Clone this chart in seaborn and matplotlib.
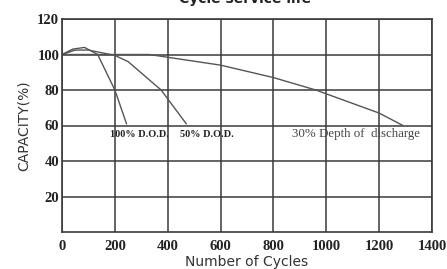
import matplotlib
matplotlib.use("Agg")
import matplotlib.pyplot as plt
import pandas as pd
import seaborn as sns

# capacity curves
dod100_cycles = [0, 40, 85, 135, 200, 244]
dod100_capacity = [100, 103, 104, 100, 80, 61]

dod50_cycles = [0, 50, 100, 200, 250, 375, 470]
dod50_capacity = [100, 102.5, 102.5, 99.5, 96, 80, 61]

dod30_cycles = [0, 330, 600, 800, 960, 1200, 1290]
dod30_capacity = [100, 100, 94, 87, 80, 67, 60]

x_ticks = [0, 200, 400, 600, 800, 1000, 1200, 1400]
y_ticks = [20, 40, 60, 80, 100, 120]

curve_labels = ["100% D.O.D.", "50% D.O.D.", "30% Depth of  discharge"]


def build_frame():
    parts = []
    for name, xs, ys in [
        ("100", dod100_cycles, dod100_capacity),
        ("50", dod50_cycles, dod50_capacity),
        ("30", dod30_cycles, dod30_capacity),
    ]:
        parts.append(pd.DataFrame({"cycles": xs, "capacity": ys, "dod": name}))
    return pd.concat(parts, ignore_index=True)


def main():
    df = build_frame()

    fig = plt.figure(figsize=(4.47, 2.69), dpi=100)
    ax = fig.add_axes([62 / 447, 37 / 269, 370 / 447, 213 / 269])

    for name in ["100", "50", "30"]:
        sns.lineplot(
            data=df[df["dod"] == name],
            x="cycles",
            y="capacity",
            sort=False,
            estimator=None,
            color="#555555",
            linewidth=1.0,
            ax=ax,
        )

    ax.set_xlim(0, 1400)
    ax.set_ylim(0, 120)
    ax.set_xticks(x_ticks)
    ax.set_yticks(y_ticks)
    ax.set_xticklabels([str(t) for t in x_ticks])
    ax.set_yticklabels([str(t) for t in y_ticks])
    ax.grid(True, color="#3a3a3a", linewidth=1.1)
    ax.set_axisbelow(True)
    for sp in ax.spines.values():
        sp.set_color("#3a3a3a")
        sp.set_linewidth(1.2)

    ax.tick_params(axis="x", length=0, pad=6)
    ax.tick_params(axis="y", length=0, pad=2)
    for lbl in ax.get_xticklabels() + ax.get_yticklabels():
        lbl.set_fontfamily("Liberation Serif")
        lbl.set_fontweight("bold")
        lbl.set_fontsize(10.5)
        lbl.set_color("#222222")

    ax.set_xlabel("Number of Cycles", fontsize=10, color="#333333", labelpad=1)
    ax.set_ylabel("CAPACITY(%)", fontsize=10, color="#333333", labelpad=5)

    ax.text(182, 55, curve_labels[0], fontsize=7.4, fontfamily="Liberation Serif",
            fontweight="bold", color="#222222", va="center")
    ax.text(446, 55, curve_labels[1], fontsize=7.4, fontfamily="Liberation Serif",
            fontweight="bold", color="#222222", va="center")
    ax.text(870, 55, curve_labels[2], fontsize=9.3, fontfamily="Liberation Serif",
            color="#444444", va="center")

    fig.text(245 / 447, 1 - 3 / 269, "Cycle service life", ha="center",
             va="baseline", fontsize=10, fontweight="bold", color="#222222")

    fig.savefig("out.png", dpi=100)


if __name__ == "__main__":
    main()
